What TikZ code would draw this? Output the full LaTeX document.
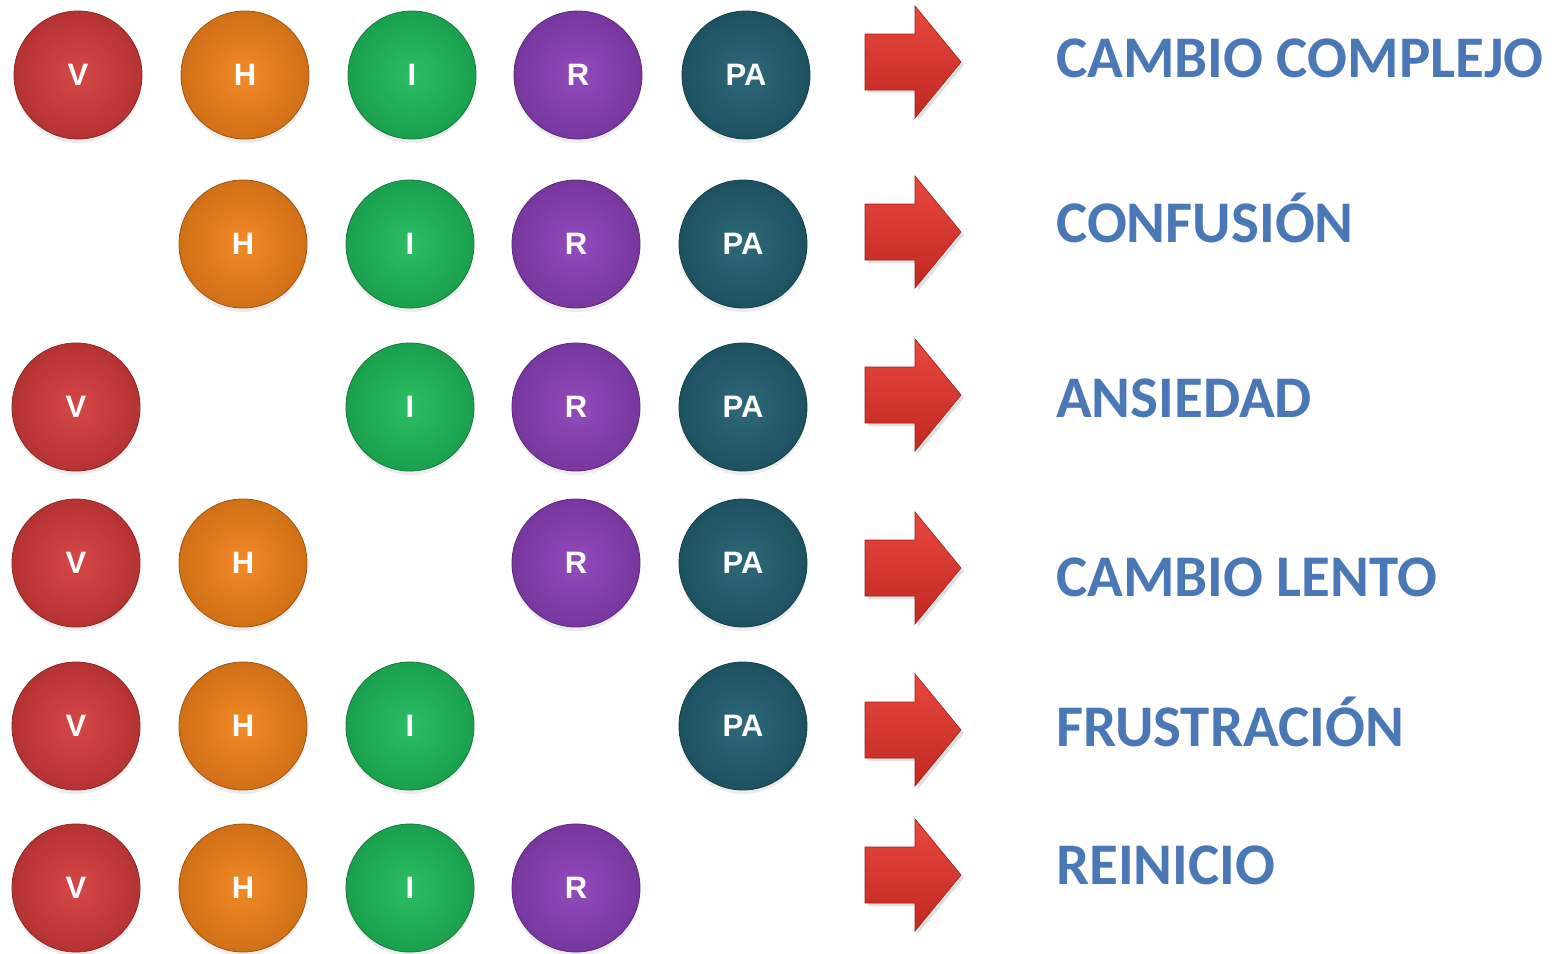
\documentclass[tikz,border=0pt]{standalone}
\usepackage{fontspec}
\setmainfont{Carlito}
\newfontfamily\ballfont{Liberation Sans}
\usetikzlibrary{shadows}
\definecolor{cV}{HTML}{D33B3B}
\definecolor{cH}{HTML}{F2821A}
\definecolor{cI}{HTML}{1EBA5A}
\definecolor{cR}{HTML}{8B3FB8}
\definecolor{cPA}{HTML}{215F70}
\definecolor{arrowtop}{HTML}{E8483E}
\definecolor{arrowbot}{HTML}{C02820}
\definecolor{labelblue}{HTML}{4A78B6}
\tikzset{
  ball/.style={circle, minimum size=128pt, inner sep=0pt,
    inner color=#1!94!white, outer color=#1!86!black,
    draw=#1!65!black, line width=0.8pt,
    drop shadow={opacity=0.15, shadow xshift=0pt, shadow yshift=-4pt},
    text=white, font=\ballfont\bfseries\fontsize{31}{31}\selectfont},
  lbl/.style={anchor=west, inner sep=0pt, text=labelblue,
    font=\bfseries\fontsize{59}{59}\selectfont},
  fatarrow/.style={top color=arrowtop, bottom color=arrowbot,
    draw=arrowbot!80!black, line width=0.6pt}
}
% block arrow centred vertically on the given y
\newcommand{\fatarrow}[1]{%
  \fill[black, opacity=0.12] (868,#1+31) -- (918,#1+31) -- (918,#1+59) -- (964,#1+3) -- (918,#1-53) -- (918,#1-25) -- (868,#1-25) -- cycle;
  \path[fatarrow] (865,#1+28) -- (915,#1+28) -- (915,#1+56) -- (961,#1) -- (915,#1-56) -- (915,#1-28) -- (865,#1-28) -- cycle;}
\begin{document}
\begin{tikzpicture}[x=1pt,y=-1pt]
\useasboundingbox (0,0) rectangle (1566,953);
% row 1
\node[ball=cV]  (v1)  at (78,75)  {V};
\node[ball=cH]  (h1)  at (245,75) {H};
\node[ball=cI]  (i1)  at (412,75) {I};
\node[ball=cR]  (r1)  at (578,75) {R};
\node[ball=cPA] (pa1) at (746,75) {PA};
\fatarrow{62}
\node[lbl] (t1) at (1056,58) {CAMBIO COMPLEJO};
% row 2
\node[ball=cH]  (h2)  at (243,244) {H};
\node[ball=cI]  (i2)  at (410,244) {I};
\node[ball=cR]  (r2)  at (576,244) {R};
\node[ball=cPA] (pa2) at (743,244) {PA};
\fatarrow{232}
\node[lbl] (t2) at (1056,218) {CONFUSIÓN};
% row 3
\node[ball=cV]  (v3)  at (76,407)  {V};
\node[ball=cI]  (i3)  at (410,407) {I};
\node[ball=cR]  (r3)  at (576,407) {R};
\node[ball=cPA] (pa3) at (743,407) {PA};
\fatarrow{395}
\node[lbl] (t3) at (1056,398) {ANSIEDAD};
% row 4
\node[ball=cV]  (v4)  at (76,563)  {V};
\node[ball=cH]  (h4)  at (243,563) {H};
\node[ball=cR]  (r4)  at (576,563) {R};
\node[ball=cPA] (pa4) at (743,563) {PA};
\fatarrow{568}
\node[lbl] (t4) at (1056,577) {CAMBIO LENTO};
% row 5
\node[ball=cV]  (v5)  at (76,726)  {V};
\node[ball=cH]  (h5)  at (243,726) {H};
\node[ball=cI]  (i5)  at (410,726) {I};
\node[ball=cPA] (pa5) at (743,726) {PA};
\fatarrow{730}
\node[lbl] (t5) at (1056,722) {FRUSTRACIÓN};
% row 6
\node[ball=cV]  (v6)  at (76,888)  {V};
\node[ball=cH]  (h6)  at (243,888) {H};
\node[ball=cI]  (i6)  at (410,888) {I};
\node[ball=cR]  (r6)  at (576,888) {R};
\fatarrow{875}
\node[lbl] (t6) at (1056,865) {REINICIO};
\end{tikzpicture}
\end{document}
